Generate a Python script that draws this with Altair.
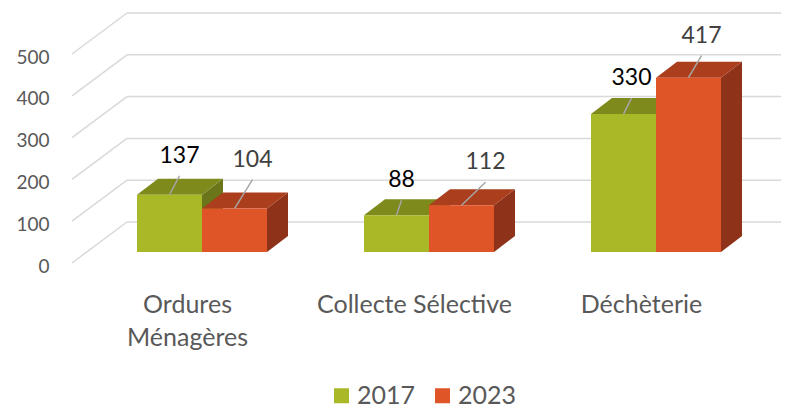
import json
import altair as alt
import pandas as pd

# ---------------- data ----------------
categories = ["Ordures Ménagères", "Collecte Sélective", "Déchèterie"]
category_lines = [["Ordures", "Ménagères"], ["Collecte Sélective"], ["Déchèterie"]]
series_names = ["2017", "2023"]
values_2017 = [137, 88, 330]
values_2023 = [104, 112, 417]
y_tick_values = [0, 100, 200, 300, 400, 500]

# hand-placed data-label nudges of the original (px right, px above bar top)
label_dx_2017 = [10, 5, 8]
label_dy_2017 = [39, 35, 36]
label_dx_2023 = [18, 24, 13]
label_dy_2023 = [49, 43, 42]

# ---------------- style ----------------
FONT = "Lato"
FRONT = {"2017": "#A9B826", "2023": "#E05527"}
TOP = {"2017": "#7F8A1D", "2023": "#AB3E1C"}
SIDE = {"2017": "#6B7519", "2023": "#8E3219"}
LABEL_COLOR = {"2017": "#000000", "2023": "#404040"}
GRID = "#D9D9D9"
TEXT = "#595959"

PLOT_W, PLOT_H = 709, 253
PX_X = 227.0   # px per category step
PX_Y = 0.418   # px per value unit
X_MIN = -130 / PX_X
X_MAX = X_MIN + PLOT_W / PX_X
Y_MAX = PLOT_H / PX_Y


def dx(px):
    return px / PX_X


def dy(px):
    return px / PX_Y


WALL_DX, WALL_DY = dx(55), dy(41)
BASE = dy(11)
BAR_W = dx(65)
BAR_DX, BAR_DY = dx(21), dy(16)
LABEL_SHIFT = dx(-15)

# ---------------- derived tables ----------------
bars, tops, sides = [], [], []
for s, vals, ldx, ldy in [("2017", values_2017, label_dx_2017, label_dy_2017),
                          ("2023", values_2023, label_dx_2023, label_dy_2023)]:
    for i, (c, v) in enumerate(zip(categories, vals)):
        x0 = i - BAR_W if s == "2017" else i
        x1 = x0 + BAR_W
        xc = (x0 + x1) / 2
        bid = f"{s}-{i}"
        bars.append(dict(series=s, cat=c, v=v, x0=x0, x1=x1, ybot=BASE, ytop=BASE + v,
                         xc=xc, lx=xc + dx(ldx[i]), ly=BASE + v + dy(ldy[i]),
                         leader_y=BASE + v + dy(ldy[i] - 20), lcolor=LABEL_COLOR[s]))
        tops.append(dict(bar=bid, fill=TOP[s], y=BASE + v, xa=x0, xb=x1))
        tops.append(dict(bar=bid, fill=TOP[s], y=BASE + v + BAR_DY, xa=x0 + BAR_DX, xb=x1 + BAR_DX))
        sides.append(dict(bar=bid, fill=SIDE[s], x=x1, ya=BASE + v, yb=BASE))
        sides.append(dict(bar=bid, fill=SIDE[s], x=x1 + BAR_DX, ya=BASE + v + BAR_DY, yb=BASE + BAR_DY))
bars = pd.DataFrame(bars)
tops = pd.DataFrame(tops)
sides = pd.DataFrame(sides)

diag = pd.DataFrame(dict(x=[X_MIN] * len(y_tick_values), x2=[X_MIN + WALL_DX] * len(y_tick_values),
                         y=y_tick_values, y2=[t + WALL_DY for t in y_tick_values]))
back = pd.DataFrame(dict(x=[X_MIN + WALL_DX] * len(y_tick_values), x2=[X_MAX] * len(y_tick_values),
                         y=[t + WALL_DY for t in y_tick_values]))

xs = alt.Scale(domain=[X_MIN, X_MAX], nice=False, zero=False)
ys = alt.Scale(domain=[0, Y_MAX], nice=False, zero=False)

label_expr = f"{json.dumps(category_lines, ensure_ascii=False)}[round(datum.value - ({LABEL_SHIFT}))]"

x_axis = alt.Axis(values=[i + LABEL_SHIFT for i in range(len(categories))], labelExpr=label_expr,
                  title=None, domain=False, ticks=False, grid=False, labelFont=FONT, labelFontSize=25,
                  labelColor=TEXT, labelPadding=29, labelLineHeight=33, labelOverlap=False,
                  labelFlush=False, labelBound=False, labelLimit=400)
y_axis = alt.Axis(values=y_tick_values, title=None, domain=False, ticks=False, grid=False,
                  labelFont=FONT, labelFontSize=19, labelColor=TEXT, labelPadding=23, labelOffset=3)


def X(field, **kw):
    return alt.X(field, scale=xs, axis=x_axis, title=None, **kw)


def Y(field, **kw):
    return alt.Y(field, scale=ys, axis=y_axis, title=None, **kw)


diag_layer = alt.Chart(diag).mark_rule(color=GRID, strokeWidth=1.5).encode(
    x=X("x:Q"), x2="x2:Q", y=Y("y:Q"), y2="y2:Q")

back_layer = alt.Chart(back).mark_rule(color=GRID, strokeWidth=1.5).encode(
    x=X("x:Q"), x2="x2:Q", y=Y("y:Q"))

side_layer = alt.Chart(sides).mark_area(orient="vertical").encode(
    x=X("x:Q"), y=Y("ya:Q", stack=None), y2="yb:Q",
    detail="bar:N", color=alt.Color("fill:N", scale=None))

top_layer = alt.Chart(tops).mark_area(orient="horizontal").encode(
    y=Y("y:Q"), x=X("xa:Q", stack=None), x2="xb:Q",
    detail="bar:N", color=alt.Color("fill:N", scale=None))

front_layer = alt.Chart(bars).mark_rect().encode(
    x=X("x0:Q"), x2="x1:Q", y=Y("ytop:Q"), y2="ybot:Q",
    color=alt.Color("series:N",
                    scale=alt.Scale(domain=series_names, range=[FRONT[s] for s in series_names]),
                    legend=alt.Legend(title=None, orient="none", direction="horizontal",
                                      legendX=257, legendY=373, symbolType="square",
                                      symbolSize=225, symbolStrokeWidth=0, labelFont=FONT,
                                      labelFontSize=25, labelColor=TEXT, columnPadding=14,
                                      labelOffset=3, padding=0)))

leader_layer = alt.Chart(bars).mark_rule(color="#A6A6A6", strokeWidth=1.5).encode(
    x=X("xc:Q"), x2="lx:Q", y=Y("ytop:Q"), y2="leader_y:Q")

text_layer = alt.Chart(bars).mark_text(font=FONT, fontSize=23, baseline="middle", align="center").encode(
    x=X("lx:Q"), y=Y("ly:Q"),
    text=alt.Text("v:Q"),
    color=alt.Color("lcolor:N", scale=None))

chart = alt.layer(diag_layer, back_layer, side_layer, top_layer, front_layer,
                  leader_layer, text_layer).properties(
    width=PLOT_W, height=PLOT_H,
    padding={"left": 64, "top": 2, "right": 0, "bottom": 145},
    autosize=alt.AutoSizeParams(type="none"),
    background="white",
).configure_view(stroke=None)

chart.save("out.html", embed_options={"renderer": "svg", "actions": False})
